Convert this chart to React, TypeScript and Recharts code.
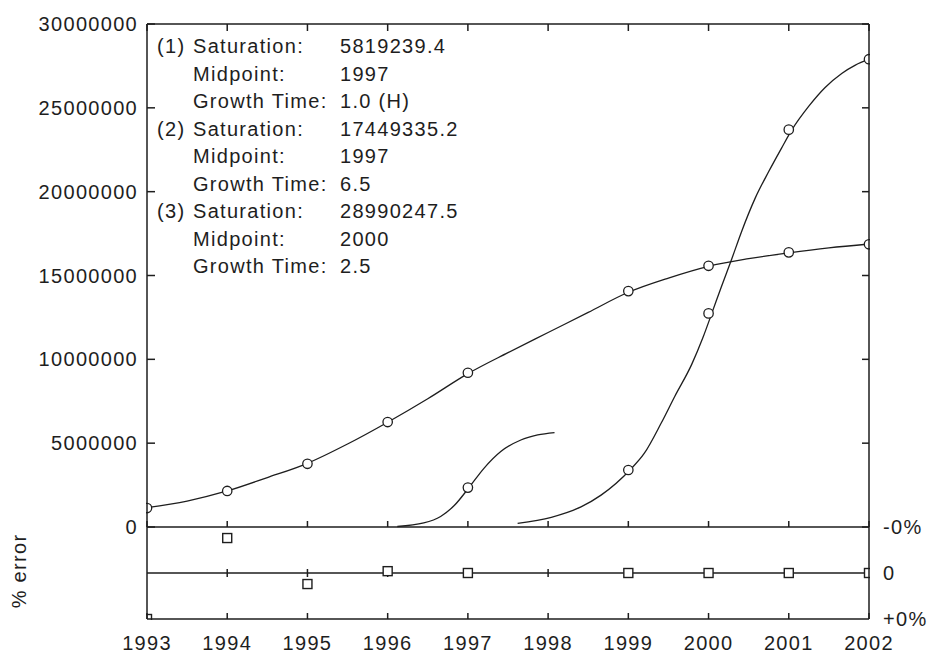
import { ComposedChart, Line, Scatter, XAxis, YAxis, ReferenceLine } from "recharts";

const years = [1993, 1994, 1995, 1996, 1997, 1998, 1999, 2000, 2001, 2002];
const valueTicks = [0, 5000000, 10000000, 15000000, 20000000, 25000000, 30000000];

// fitted curves
const curve1X = [1996.12, 1996.45, 1996.66, 1996.83, 1997.01, 1997.2, 1997.41, 1997.66, 1997.87, 1998.08];
const curve1Y = [30000, 240000, 630000, 1280000, 2330000, 3500000, 4500000, 5190000, 5490000, 5630000];

const curve2X = [1993, 1993.5, 1994, 1994.5, 1995, 1995.5, 1996, 1996.5, 1997, 1997.5, 1998, 1998.5, 1999, 1999.5, 2000, 2000.5, 2001, 2001.5, 2002];
const curve2Y = [1150000, 1550000, 2150000, 2950000, 3800000, 4950000, 6250000, 7650000, 9150000, 10400000, 11600000, 12800000, 14000000, 14850000, 15550000, 16000000, 16350000, 16650000, 16880000];

const curve3X = [1997.62, 1998.04, 1998.41, 1998.66, 1999.02, 1999.2, 1999.41, 1999.58, 1999.79, 1999.93, 2000.04, 2000.16, 2000.29, 2000.41, 2000.58, 2000.75, 2000.91, 2001.04, 2001.25, 2001.45, 2001.66, 2001.83, 2002];
const curve3Y = [220000, 580000, 1200000, 1900000, 3400000, 4400000, 6200000, 7800000, 9700000, 11300000, 12740000, 14330000, 16000000, 17600000, 19600000, 21200000, 22600000, 23700000, 25100000, 26200000, 27050000, 27550000, 27900000];

// observed points
const obs1Years = [1997];
const obs1Values = [2350000];
const obs2Years = [1993, 1994, 1995, 1996, 1997, 1999, 2000, 2001, 2002];
const obs2Values = [1130000, 2150000, 3770000, 6260000, 9200000, 14070000, 15580000, 16380000, 16860000];
const obs3Years = [1999, 2000, 2001, 2002];
const obs3Values = [3400000, 12740000, 23700000, 27900000];

// residuals panel
const errYears = [1993, 1994, 1995, 1996, 1997, 1999, 2000, 2001, 2002];
const errValues = [1, -0.76, 0.24, -0.04, 0, 0, 0, 0, 0];
const errTicks = [-1, 0, 1];
const errTickLabels = ["-0%", "0", "+0%"];
const midTickYears = [1994, 1995, 1996, 1997, 1998, 1999, 2000, 2001];

const fitNames = ["(1)", "(2)", "(3)"];
const fitSaturation = ["5819239.4", "17449335.2", "28990247.5"];
const fitMidpoint = ["1997", "1997", "2000"];
const fitGrowth = ["1.0 (H)", "6.5", "2.5"];

const zip = (xs: number[], ys: number[]) => xs.map((x, i) => ({ x, y: ys[i] }));
const corners = (xs: number[], ys: number[]) => [
  { x: xs[0], y: ys[0] },
  { x: xs[xs.length - 1], y: ys[ys.length - 1] },
];

const INK = "#1e1e1e";
const FONT = { fontSize: 20, fill: INK, letterSpacing: 1.3 };
const CURVE = { stroke: INK, strokeWidth: 1.3 };
const TICK = { stroke: INK, strokeWidth: 1.5 };
const BORDER = { stroke: INK, strokeWidth: 1.5, ifOverflow: "visible" as const };

const Circle = (p: any) => (
  <circle cx={p.cx} cy={p.cy} r={4.7} fill="#fff" stroke={INK} strokeWidth={1.3} />
);
const Square = (p: any) => (
  <rect x={p.cx - 4.5} y={p.cy - 4.5} width={9} height={9} fill="#fff" stroke={INK} strokeWidth={1.4} />
);
const Nothing = () => <g />;
const centerTick = (p: any) => {
  const m = (p.y1 + p.y2) / 2;
  return <line x1={p.x1} x2={p.x1} y1={m - 4} y2={m + 4} stroke={INK} strokeWidth={1.5} />;
};

const PLOT_L = 147;
const PLOT_W = 722;
const PLOT_R = 66;

export default function App() {
  const rowStyle = { display: "flex", height: 27.5, lineHeight: "27.5px" } as const;
  const rows: { pre: string; label: string; value: string }[] = [];
  fitNames.forEach((n, i) => {
    rows.push({ pre: n, label: "Saturation:", value: fitSaturation[i] });
    rows.push({ pre: "", label: "Midpoint:", value: fitMidpoint[i] });
    rows.push({ pre: "", label: "Growth Time:", value: fitGrowth[i] });
  });

  const yTop = valueTicks[valueTicks.length - 1];

  return (
    <div
      style={{
        position: "absolute",
        left: 0,
        top: 0,
        width: 935,
        height: 657,
        background: "#fff",
        fontFamily: '"Liberation Sans", Arial, sans-serif',
        color: INK,
      }}
    >
      {/* main panel data, clipped to the plot box */}
      <div style={{ position: "absolute", left: PLOT_L - 1, top: 23, width: PLOT_W + 2, height: 505, overflow: "hidden" }}>
        <ComposedChart width={PLOT_W + 2} height={505} margin={{ top: 1, right: 1, bottom: 1, left: 1 }}>
          <XAxis dataKey="x" type="number" domain={[1993, 2002]} hide />
          <YAxis dataKey="y" type="number" domain={[0, yTop]} hide />
          <Line data={zip(curve2X, curve2Y)} dataKey="y" type="monotone" dot={false} {...CURVE} isAnimationActive={false} />
          <Line data={zip(curve1X, curve1Y)} dataKey="y" type="monotone" dot={false} {...CURVE} isAnimationActive={false} />
          <Line data={zip(curve3X, curve3Y)} dataKey="y" type="monotone" dot={false} {...CURVE} isAnimationActive={false} />
          <Scatter data={zip(obs2Years, obs2Values)} shape={Circle} isAnimationActive={false} />
          <Scatter data={zip(obs1Years, obs1Values)} shape={Circle} isAnimationActive={false} />
          <Scatter data={zip(obs3Years, obs3Values)} shape={Circle} isAnimationActive={false} />
        </ComposedChart>
      </div>

      {/* residual data, clipped */}
      <div style={{ position: "absolute", left: PLOT_L - 1, top: 526, width: PLOT_W + 2, height: 94, overflow: "hidden" }}>
        <ComposedChart width={PLOT_W + 2} height={94} margin={{ top: 1, right: 1, bottom: 1, left: 1 }}>
          <XAxis dataKey="x" type="number" domain={[1993, 2002]} hide />
          <YAxis dataKey="y" type="number" domain={[-1, 1]} reversed hide />
          <ReferenceLine y={0} {...BORDER} />
          {midTickYears.map((yr) => (
            <ReferenceLine key={yr} x={yr} ifOverflow="visible" shape={centerTick} />
          ))}
          <Scatter data={zip(errYears, errValues)} shape={Square} isAnimationActive={false} />
        </ComposedChart>
      </div>

      {/* main panel frame: border and value labels */}
      <div style={{ position: "absolute", left: 0, top: 0 }}>
        <ComposedChart width={935} height={540} margin={{ top: 24, right: PLOT_R, bottom: 13, left: 0 }}>
          <XAxis dataKey="x" type="number" domain={[1993, 2002]} ticks={years} hide />
          <YAxis dataKey="y" type="number" domain={[0, yTop]} ticks={valueTicks} width={PLOT_L} tick={FONT} tickLine={false} tickSize={6} tickMargin={3} axisLine={false} />
          <Scatter data={corners(years, valueTicks)} shape={Nothing} isAnimationActive={false} />
          <ReferenceLine x={1993} {...BORDER} />
          <ReferenceLine x={2002} {...BORDER} />
          <ReferenceLine y={0} {...BORDER} />
          <ReferenceLine y={yTop} {...BORDER} />
        </ComposedChart>
      </div>

      {/* main panel inward ticks on the left and right edges: axes on a horizontally inset plot */}
      <div style={{ position: "absolute", left: 0, top: 0 }}>
        <ComposedChart width={935} height={540} margin={{ top: 24, right: PLOT_R, bottom: 13, left: PLOT_L }}>
          <XAxis dataKey="x" type="number" domain={[1993, 2002]} hide />
          <YAxis yAxisId="l" dataKey="y" type="number" domain={[0, yTop]} ticks={valueTicks} interval={0} width={8} tickSize={8} tick={Nothing} tickLine={TICK} axisLine={false} stroke={INK} />
          <YAxis yAxisId="r" orientation="right" dataKey="y" type="number" domain={[0, yTop]} ticks={valueTicks} interval={0} width={7} tickSize={7} tick={Nothing} tickLine={TICK} axisLine={false} stroke={INK} />
          <Scatter yAxisId="l" data={corners(years, valueTicks)} shape={Nothing} isAnimationActive={false} />
          <Scatter yAxisId="r" data={corners(years, valueTicks)} shape={Nothing} isAnimationActive={false} />
        </ComposedChart>
      </div>

      {/* main panel inward ticks on the top and bottom edges: axes on a vertically inset plot */}
      <div style={{ position: "absolute", left: 0, top: 0 }}>
        <ComposedChart width={935} height={540} margin={{ top: 24, right: PLOT_R, bottom: 13, left: PLOT_L }}>
          <XAxis xAxisId="t" orientation="top" dataKey="x" type="number" domain={[1993, 2002]} ticks={years} interval={0} height={7} tickSize={7} tick={Nothing} tickLine={TICK} axisLine={false} stroke={INK} />
          <XAxis xAxisId="b" dataKey="x" type="number" domain={[1993, 2002]} ticks={years} interval={0} height={6} tickSize={6} tick={Nothing} tickLine={TICK} axisLine={false} stroke={INK} />
          <YAxis dataKey="y" type="number" domain={[0, yTop]} hide />
          <Scatter xAxisId="t" data={corners(years, valueTicks)} shape={Nothing} isAnimationActive={false} />
          <Scatter xAxisId="b" data={corners(years, valueTicks)} shape={Nothing} isAnimationActive={false} />
        </ComposedChart>
      </div>

      {/* residual panel frame */}
      <div style={{ position: "absolute", left: 0, top: 500 }}>
        <ComposedChart width={935} height={157} margin={{ top: 27, right: 0, bottom: 0, left: 0 }}>
          <XAxis dataKey="x" type="number" domain={[1993, 2002]} ticks={years} height={38} tick={FONT} tickLine={false} tickSize={6} tickMargin={11} axisLine={false} />
          <YAxis
            yAxisId="l"
            dataKey="y"
            type="number"
            domain={[-1, 1]}
            reversed
            ticks={errTicks}
            width={PLOT_L}
            tick={false}
            tickLine={false}
            axisLine={false}
            label={{ value: "% error", angle: -90, position: "center", dx: -55, dy: -2, fontSize: 20, fill: INK, letterSpacing: 1.3 }}
          />
          <YAxis
            yAxisId="r"
            orientation="right"
            type="number"
            domain={[-1, 1]}
            allowDataOverflow
            reversed
            ticks={errTicks}
            width={PLOT_R}
            tick={FONT}
            tickLine={false}
            tickSize={6}
            tickMargin={8}
            tickFormatter={(v: any) => errTickLabels[Math.sign(Number(v)) + 1]}
            axisLine={false}
          />
          <Scatter yAxisId="l" data={corners(years, errTicks)} shape={Nothing} isAnimationActive={false} />
          <ReferenceLine yAxisId="l" x={1993} {...BORDER} />
          <ReferenceLine yAxisId="l" x={2002} {...BORDER} />
          <ReferenceLine yAxisId="l" y={1} {...BORDER} />
        </ComposedChart>
      </div>

      {/* residual panel inward ticks on the bottom edge */}
      <div style={{ position: "absolute", left: 0, top: 500 }}>
        <ComposedChart width={935} height={157} margin={{ top: 27, right: PLOT_R, bottom: 38, left: PLOT_L }}>
          <XAxis dataKey="x" type="number" domain={[1993, 2002]} ticks={years} interval={0} height={6} tickSize={6} tick={Nothing} tickLine={TICK} axisLine={false} stroke={INK} />
          <YAxis dataKey="y" type="number" domain={[-1, 1]} reversed hide />
          <Scatter data={corners(years, errTicks)} shape={Nothing} isAnimationActive={false} />
        </ComposedChart>
      </div>

      <div style={{ position: "absolute", left: 157, top: 33, fontSize: 20, letterSpacing: 1.3 }}>
        {rows.map((r, i) => (
          <div key={i} style={rowStyle}>
            <span style={{ width: 36 }}>{r.pre}</span>
            <span style={{ width: 147 }}>{r.label}</span>
            <span>{r.value}</span>
          </div>
        ))}
      </div>
    </div>
  );
}
